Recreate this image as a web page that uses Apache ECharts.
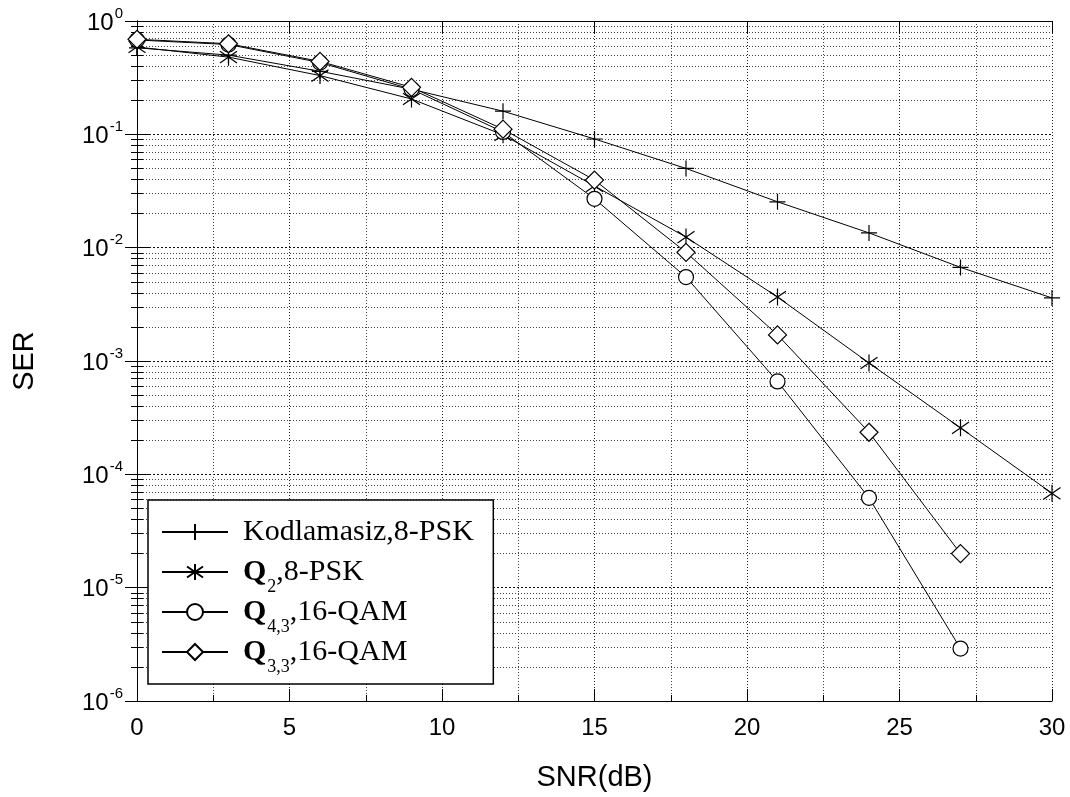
<!DOCTYPE html>
<html>
<head>
<meta charset="utf-8">
<script src="https://cdn.jsdelivr.net/npm/echarts@6/dist/echarts.min.js"></script>
<style>html,body{margin:0;padding:0;background:#fff}#c{width:1070px;height:797px}</style>
</head>
<body>
<div id="c"></div>
<script>
// ---- data ----
var snrA = [0, 3, 6, 9, 12, 15, 18, 21, 24, 27, 30];
var snrB = [0, 3, 6, 9, 12, 15, 18, 21, 24, 27];
var serUncoded = [0.58, 0.50, 0.36, 0.25, 0.16, 0.091, 0.050, 0.0254, 0.0135, 0.0067, 0.0036];
var serQ2 = [0.59, 0.48, 0.33, 0.205, 0.099, 0.035, 0.0124, 0.00367, 0.00096, 0.000257, 0.000068];
var serQ43 = [0.68, 0.62, 0.43, 0.25, 0.105, 0.027, 0.0055, 0.00066, 0.000062, 0.0000029];
var serQ33 = [0.69, 0.63, 0.44, 0.26, 0.111, 0.0395, 0.0091, 0.0017, 0.000235, 0.00002];
var seriesNames = ['Kodlamasiz,8-PSK', 'Q2,8-PSK', 'Q4,3,16-QAM', 'Q3,3,16-QAM'];
var legendRich = ['{t|Kodlamasiz,8-PSK}{s| }', '{q|Q}{s|2}{u|,8-PSK}', '{q|Q}{s|4,3}{u|,16-QAM}', '{q|Q}{s|3,3}{u|,16-QAM}'];
var xTicks = [0, 5, 10, 15, 20, 25, 30];
var yMin = 1e-6, yMax = 1;

function pairs(xs, ys) { return ys.map(function (v, i) { return [xs[i], v]; }); }

var PLUS = 'path://M8,0L8,16M0,8L16,8';
var STAR = 'path://M8,0L8,16M2.5,2.5L13.5,13.5M2.5,13.5L13.5,2.5';

var chart = echarts.init(document.getElementById('c'), null, {renderer: 'canvas'});
var gridLine = {show: true, lineStyle: {color: '#222', width: 1, type: [1, 2]}};
var minorGrid = {show: true, lineStyle: {color: '#444', width: 1, type: [1, 2]}};
var axisLine = {show: true, lineStyle: {color: '#000', width: 1}};

function yLabel(v) {
  var e = Math.round(Math.log10(v));
  return '{b|10}{e|' + e + '}';
}

var LF = 'Liberation Serif';
var option = {
  backgroundColor: '#fff',
  animation: false,
  grid: {left: 137, right: 18, top: 21, bottom: 96, containLabel: false},
  xAxis: [{
    type: 'value', min: 0, max: 30, interval: 5, position: 'bottom',
    axisLine: axisLine,
    axisTick: {show: true, inside: true, length: 12, lineStyle: {color: '#000'}},
    minorTick: {show: true, splitNumber: 2, length: 6, lineStyle: {color: '#000'}},
    splitLine: gridLine,
    minorSplitLine: minorGrid,
    axisLabel: {color: '#000', fontFamily: 'Liberation Sans', fontSize: 24, margin: 15},
    name: 'SNR(dB)', nameLocation: 'middle', nameGap: 62,
    nameTextStyle: {color: '#000', fontFamily: 'Liberation Sans', fontSize: 29}
  }, {
    type: 'value', min: 0, max: 30, interval: 5, position: 'top',
    axisLine: axisLine,
    axisTick: {show: true, inside: true, length: 12, lineStyle: {color: '#000'}},
    axisLabel: {show: false}, splitLine: {show: false}
  }],
  yAxis: [{
    type: 'log', logBase: 10, min: yMin, max: yMax, position: 'left',
    axisLine: axisLine,
    axisTick: {show: true, inside: true, length: 12, lineStyle: {color: '#000'}},
    minorTick: {show: true, splitNumber: 9, length: 6, lineStyle: {color: '#000'}},
    splitLine: {show: true, lineStyle: {color: '#111', width: 1, type: [2, 2]}},
    minorSplitLine: minorGrid,
    axisLabel: {
      color: '#000', margin: 14, formatter: yLabel,
      rich: {
        b: {fontFamily: 'Liberation Sans', fontSize: 24, color: '#000', verticalAlign: 'bottom', lineHeight: 28},
        e: {fontFamily: 'Liberation Sans', fontSize: 15, color: '#000', verticalAlign: 'bottom', lineHeight: 28, padding: [0, 0, 14, 1]}
      }
    },
    name: 'SER', nameLocation: 'middle', nameGap: 98, nameRotate: 90,
    nameTextStyle: {color: '#000', fontFamily: 'Liberation Sans', fontSize: 29}
  }, {
    type: 'log', logBase: 10, min: yMin, max: yMax, position: 'right',
    axisLine: axisLine,
    axisTick: {show: true, inside: true, length: 12, lineStyle: {color: '#000'}},
    minorTick: {show: true, splitNumber: 9, length: 6, lineStyle: {color: '#000'}},
    axisLabel: {show: false}, splitLine: {show: false}
  }],
  legend: {
    show: true, orient: 'vertical', left: 148, top: 500,
    backgroundColor: '#fff', borderColor: '#000', borderWidth: 1.5,
    padding: [8, 14, 8, 13], itemGap: -8, itemWidth: 66, itemHeight: 20,
    data: seriesNames,
    formatter: function (name) { return legendRich[seriesNames.indexOf(name)]; },
    textStyle: {
      color: '#000', fontFamily: LF, fontSize: 30, lineHeight: 48,
      rich: {
        t: {fontFamily: LF, fontSize: 30, color: '#000', lineHeight: 48, verticalAlign: 'middle', padding: [0, 0, 0, 10]},
        q: {fontFamily: LF, fontSize: 30, fontWeight: 'bold', color: '#000', lineHeight: 48, verticalAlign: 'middle', padding: [0, 0, 0, 10]},
        u: {fontFamily: LF, fontSize: 30, color: '#000', lineHeight: 48, verticalAlign: 'middle'},
        s: {fontFamily: LF, fontSize: 18, color: '#000', lineHeight: 48, verticalAlign: 'bottom', padding: [0, 0, 0, 1]}
      }
    }
  },
  series: [
    {name: seriesNames[0], type: 'line', data: pairs(snrA, serUncoded), symbol: PLUS, symbolSize: 16,
      lineStyle: {color: '#000', width: 1}, itemStyle: {color: '#000', borderColor: '#000', borderWidth: 1.2}, clip: false},
    {name: seriesNames[1], type: 'line', data: pairs(snrA, serQ2), symbol: STAR, symbolSize: 17,
      lineStyle: {color: '#000', width: 1}, itemStyle: {color: '#000', borderColor: '#000', borderWidth: 1.2}, clip: false},
    {name: seriesNames[2], type: 'line', data: pairs(snrB, serQ43), symbol: 'circle', symbolSize: 15,
      lineStyle: {color: '#000', width: 1}, itemStyle: {color: '#fff', borderColor: '#000', borderWidth: 1.2}, clip: false},
    {name: seriesNames[3], type: 'line', data: pairs(snrB, serQ33), symbol: 'diamond', symbolSize: 18,
      lineStyle: {color: '#000', width: 1}, itemStyle: {color: '#fff', borderColor: '#000', borderWidth: 1.2}, clip: false}
  ]
};
chart.setOption(option);
</script>
</body>
</html>
